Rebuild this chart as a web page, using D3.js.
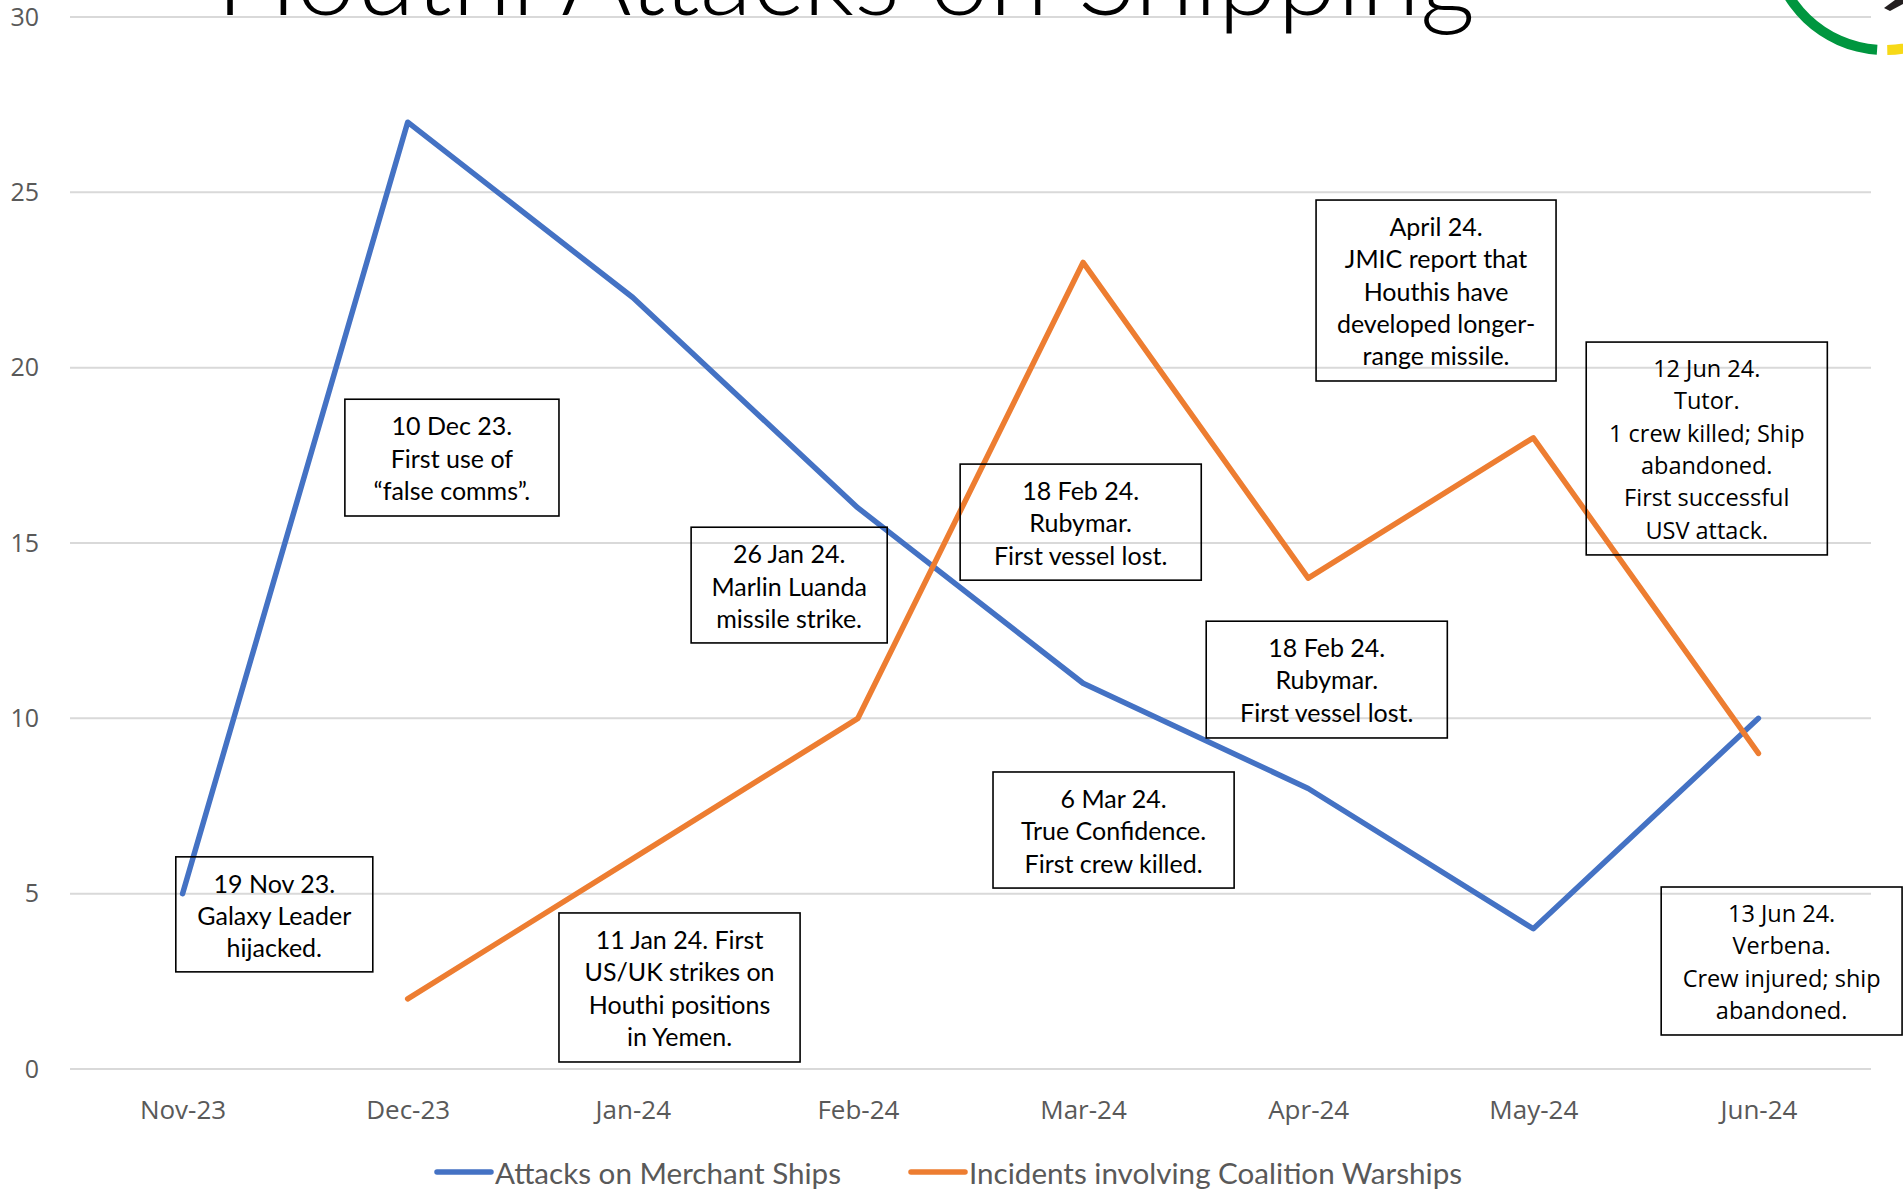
<!DOCTYPE html>
<html>
<head>
<meta charset="utf-8">
<script src="https://cdn.jsdelivr.net/npm/d3@7"></script>
<style>
  html, body { margin: 0; padding: 0; background: #fff; overflow: hidden; }
</style>
</head>
<body>
<div id="chart"></div>
<script>
(function(){

  var width = 1903;
  var height = 1196;

  var months = ['Nov-23', 'Dec-23', 'Jan-24', 'Feb-24', 'Mar-24', 'Apr-24', 'May-24', 'Jun-24'];
  var merchantAttacks = [5, 27, 22, 16, 11, 8, 4, 10];
  var warshipIncidents = [null, 2, 6, 10, 23, 14, 18, 9];
  var yTicks = [0, 5, 10, 15, 20, 25, 30];
  var seriesNames = ['Attacks on Merchant Ships', 'Incidents involving Coalition Warships'];

  // annotation text, anchored in month-index / value units
  var notes = [
    { x0: -0.03, x1: 0.845, top: 6.05, bottom: 2.77, wide: false, lines: ['19 Nov 23.', 'Galaxy Leader', 'hijacked.'] },
    { x0: 0.721, x1: 1.672, top: 19.1, bottom: 15.77, wide: false, lines: ['10 Dec 23.', 'First use of', '\u201cfalse comms\u201d.'] },
    { x0: 2.259, x1: 3.13, top: 15.45, bottom: 12.15, wide: false, lines: ['26 Jan 24.', 'Marlin Luanda', 'missile strike.'] },
    { x0: 1.672, x1: 2.743, top: 4.45, bottom: 0.2, wide: false, lines: ['11 Jan 24. First', 'US/UK strikes on', 'Houthi positions', 'in Yemen.'] },
    { x0: 3.454, x1: 4.525, top: 17.25, bottom: 13.94, wide: false, lines: ['18 Feb 24.', 'Rubymar.', 'First vessel lost.'] },
    { x0: 4.547, x1: 5.618, top: 12.77, bottom: 9.44, wide: false, lines: ['18 Feb 24.', 'Rubymar.', 'First vessel lost.'] },
    { x0: 3.6, x1: 4.671, top: 8.47, bottom: 5.16, wide: false, lines: ['6 Mar 24.', 'True Confidence.', 'First crew killed.'] },
    { x0: 5.035, x1: 6.101, top: 24.78, bottom: 19.62, wide: false, lines: ['April 24.', 'JMIC report that', 'Houthis have', 'developed longer-', 'range missile.'] },
    { x0: 6.235, x1: 7.306, top: 20.73, bottom: 14.66, wide: true, lines: ['12 Jun 24.', 'Tutor.', '1 crew killed; Ship', 'abandoned.', 'First successful', 'USV attack.'] },
    { x0: 6.568, x1: 7.638, top: 5.19, bottom: 0.97, wide: true, lines: ['13 Jun 24.', 'Verbena.', 'Crew injured; ship', 'abandoned.'] }
  ];

  var blue = '#4472C4';
  var orange = '#ED7D31';
  var plotLeft = 70, plotRight = 1871, plotTop = 17, plotBottom = 1069;

  var svg = d3.select('#chart')
              .append('svg')
              .attr('width', width)
              .attr('height', height);

  var x = d3.scalePoint()
            .domain(months)
            .range([plotLeft, plotRight])
            .padding(0.5);

  var xi = d3.scaleLinear()
             .domain([0, months.length - 1])
             .range([x(months[0]), x(months[months.length - 1])]);

  var y = d3.scaleLinear()
            .domain([0, 30])
            .range([plotBottom, plotTop]);

  // gridlines
  svg.append('g')
     .selectAll('line')
     .data(yTicks)
     .enter()
     .append('line')
     .attr('x1', plotLeft)
     .attr('x2', plotRight)
     .attr('y1', function(d){ return y(d); })
     .attr('y2', function(d){ return y(d); })
     .attr('stroke', '#d9d9d9')
     .attr('stroke-width', 2);

  // y axis labels
  var yAxis = d3.axisLeft(y).tickValues(yTicks).tickSize(0).tickPadding(0);
  var gy = svg.append('g')
              .attr('transform', 'translate(39,0)')
              .call(yAxis);
  gy.select('.domain').remove();
  gy.selectAll('text')
    .attr('fill', '#595959')
    .attr('font-family', '"Open Sans", sans-serif')
    .attr('font-size', '25px');

  // x axis labels
  var xAxis = d3.axisBottom(x).tickSize(0).tickPadding(0);
  var gx = svg.append('g')
              .attr('transform', 'translate(0,1101)')
              .call(xAxis);
  gx.select('.domain').remove();
  gx.selectAll('text')
    .attr('fill', '#595959')
    .attr('font-family', '"Open Sans", sans-serif')
    .attr('font-size', '26px');

  // title, cut at the top edge
  svg.append('text')
     .text('Houthi Attacks on Shipping')
     .attr('x', 216)
     .attr('y', 15)
     .attr('textLength', 1259)
     .attr('lengthAdjust', 'spacingAndGlyphs')
     .attr('font-family', 'Lato, sans-serif')
     .attr('font-weight', 300)
     .attr('font-size', '106px')
     .attr('fill', '#000');

  // logo fragment, top right
  var logo = svg.append('g').attr('transform', 'translate(1885,-63)');
  logo.append('path')
      .attr('d', d3.arc()({ innerRadius: 108, outerRadius: 118, startAngle: Math.PI + 0.07, endAngle: 4.6 }))
      .attr('fill', '#00963f');
  logo.append('path')
      .attr('d', d3.arc()({ innerRadius: 108, outerRadius: 118, startAngle: Math.PI - 0.6, endAngle: Math.PI - 0.02 }))
      .attr('fill', '#f7d917');
  svg.append('path')
     .attr('d', 'M1884,8 L1895,0 L1903,0 L1903,4 L1890,11 Z')
     .attr('fill', '#231f20');

  // lines
  var line = d3.line()
               .defined(function(d){ return d != null; })
               .x(function(d, i){ return xi(i); })
               .y(function(d){ return y(d); });

  svg.append('path')
     .datum(merchantAttacks)
     .attr('d', line)
     .attr('fill', 'none')
     .attr('stroke', blue)
     .attr('stroke-width', 5.5)
     .attr('stroke-linecap', 'round')
     .attr('stroke-linejoin', 'round');

  svg.append('path')
     .datum(warshipIncidents)
     .attr('d', line)
     .attr('fill', 'none')
     .attr('stroke', orange)
     .attr('stroke-width', 5.5)
     .attr('stroke-linecap', 'round')
     .attr('stroke-linejoin', 'round');

  // annotation boxes
  var box = svg.selectAll('g.note')
               .data(notes)
               .enter()
               .append('g')
               .attr('class', 'note');

  box.append('rect')
     .attr('x', function(d){ return xi(d.x0); })
     .attr('y', function(d){ return y(d.top); })
     .attr('width', function(d){ return xi(d.x1) - xi(d.x0); })
     .attr('height', function(d){ return y(d.bottom) - y(d.top); })
     .attr('fill', 'none')
     .attr('stroke', '#000')
     .attr('stroke-width', 1.6);

  box.each(function(d){
    var g = d3.select(this);
    var cx = (xi(d.x0) + xi(d.x1)) / 2;
    g.selectAll('text')
     .data(d.lines)
     .enter()
     .append('text')
     .text(function(t){ return t; })
     .attr('x', cx)
     .attr('y', function(t, i){ return y(d.top) + 26 + i * 32.3; })
     .attr('text-anchor', 'middle')
     .attr('dominant-baseline', 'central')
     .attr('font-family', d.wide ? '"Open Sans", sans-serif' : 'Lato, sans-serif')
     .attr('font-size', d.wide ? '23.5px' : '25px')
     .attr('fill', '#000');
  });

  // legend
  var legend = svg.append('g');
  var legendItems = [
    { name: seriesNames[0], color: blue, x: 437 },
    { name: seriesNames[1], color: orange, x: 911 }
  ];
  legendItems.forEach(function(d){
    legend.append('line')
          .attr('x1', d.x)
          .attr('x2', d.x + 54)
          .attr('y1', 1172)
          .attr('y2', 1172)
          .attr('stroke', d.color)
          .attr('stroke-width', 5.5)
          .attr('stroke-linecap', 'round');
    legend.append('text')
          .text(d.name)
          .attr('x', d.x + 58)
          .attr('y', 1172)
          .attr('dominant-baseline', 'central')
          .attr('font-family', 'Lato, sans-serif')
          .attr('font-size', '29.6px')
          .attr('fill', '#595959');
  });

})();
</script>
</body>
</html>
